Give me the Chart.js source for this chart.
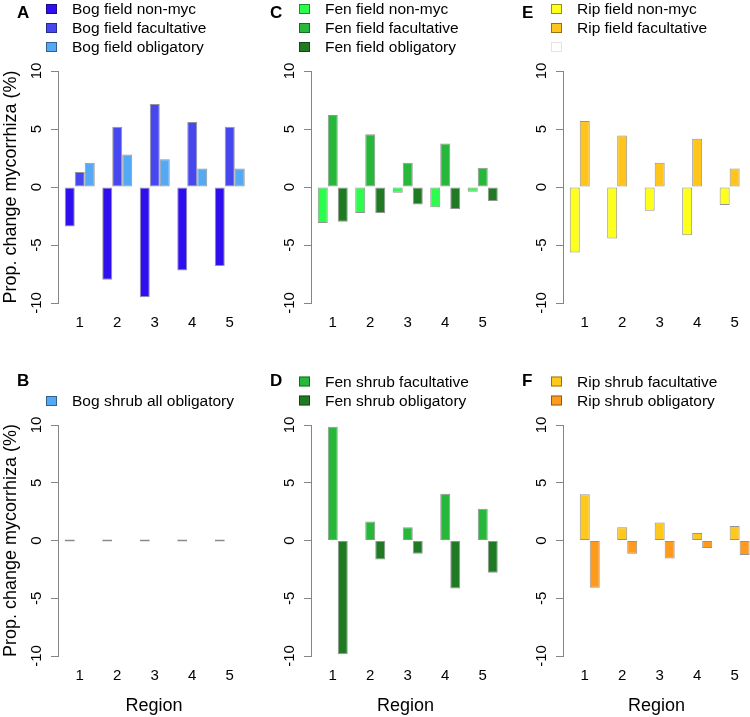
<!DOCTYPE html>
<html>
<head>
<meta charset="utf-8">
<script src="https://cdn.jsdelivr.net/npm/chart.js@4.4.0/dist/chart.umd.min.js"></script>
<style>
  html, body { margin: 0; padding: 0; background: #fff; overflow: hidden; }
  #wrap { position: relative; width: 750px; height: 717px; }
  canvas { position: absolute; }
</style>
</head>
<body>
<div id="wrap">
  <canvas id="pA" width="250" height="340" style="left:0;top:0"></canvas>
  <canvas id="pC" width="250" height="340" style="left:250px;top:0"></canvas>
  <canvas id="pE" width="250" height="340" style="left:500px;top:0"></canvas>
  <canvas id="pB" width="250" height="367" style="left:0;top:350px"></canvas>
  <canvas id="pD" width="250" height="367" style="left:250px;top:350px"></canvas>
  <canvas id="pF" width="250" height="367" style="left:500px;top:350px"></canvas>
</div>
<script>
const regions = [1, 2, 3, 4, 5];
const yTicks = [-10, -5, 0, 5, 10];

// field plots
const bogFieldNonMyc = [-3.4, -8.0, -9.5, -7.2, -6.8];
const bogFieldFac = [1.3, 5.2, 7.15, 5.6, 5.2];
const bogFieldObl = [2.1, 2.8, 2.4, 1.6, 1.6];
const fenFieldNonMyc = [-3.1, -2.25, -0.5, -1.75, -0.4];
const fenFieldFac = [6.2, 4.55, 2.1, 3.75, 1.65];
const fenFieldObl = [-3.0, -2.25, -1.5, -1.9, -1.2];
const ripFieldNonMyc = [-5.65, -4.45, -2.05, -4.15, -1.55];
const ripFieldFac = [5.7, 4.45, 2.1, 4.15, 1.6];

// shrub plots
const bogShrubObl = [0, 0, 0, 0, 0];
const fenShrubFac = [9.85, 1.65, 1.15, 4.05, 2.75];
const fenShrubObl = [-9.85, -1.65, -1.15, -4.15, -2.8];
const ripShrubFac = [4.0, 1.15, 1.55, 0.65, 1.25];
const ripShrubObl = [-4.1, -1.15, -1.55, -0.65, -1.25];

// empty bar slot
const noData = [null, null, null, null, null];

const FONT = '"Liberation Sans", Arial, Helvetica, sans-serif';
Chart.defaults.font.family = FONT;
Chart.defaults.color = '#000';

const edge = 'rgba(0,0,0,0.42)';
const axisGrey = '#858585';

function bars(label, data, color, extra) {
  return Object.assign({
    label: label,
    data: data,
    backgroundColor: color,
    borderColor: edge,
    borderWidth: 1,
    borderSkipped: false
  }, extra || {});
}

// panel letter + R-style legend above each plot
const panelLegend = {
  id: 'panelLegend',
  afterDraw(chart, args, opts) {
    const ctx = chart.ctx;
    const x0 = chart.chartArea.left;
    ctx.save();
    ctx.textBaseline = 'middle';
    ctx.fillStyle = '#000';
    ctx.font = 'bold 17px ' + FONT;
    ctx.fillText(opts.letter, x0 - 41, opts.letterY);
    ctx.font = '15.5px ' + FONT;
    let row = 0;
    chart.data.datasets.forEach(ds => {
      if (ds.hideInLegend) return;
      const y = opts.rowY + row * 19;
      ctx.fillStyle = ds.backgroundColor;
      ctx.fillRect(x0 - 12, y - 5, 11, 10);
      ctx.strokeStyle = ds.legendEdge || ds.borderColor;
      ctx.lineWidth = 1;
      ctx.strokeRect(x0 - 11.5, y - 4.5, 10, 9);
      ctx.fillStyle = '#000';
      ctx.fillText(ds.label, x0 + 14, y + 1);
      row++;
    });
    ctx.restore();
  }
};

function panel(id, p) {
  new Chart(document.getElementById(id), {
    type: 'bar',
    data: { labels: regions, datasets: p.datasets },
    options: {
      responsive: false,
      animation: false,
      layout: { padding: { top: p.top, left: 0, right: 0, bottom: 0 } },
      datasets: { bar: { categoryPercentage: 0.8, barPercentage: 1 } },
      plugins: {
        legend: { display: false },
        tooltip: { enabled: false },
        panelLegend: { letter: p.letter, letterY: p.letterY, rowY: p.rowY }
      },
      scales: {
        x: {
          type: 'linear',
          offset: false,
          min: 0.42,
          max: p.xMax,
          ticks: { stepSize: 1, includeBounds: false, padding: 11, color: '#000', font: { size: 15 } },
          grid: { display: false, drawTicks: false, offset: false },
          border: { display: false },
          title: { display: p.xTitle, text: 'Region', color: '#000', font: { size: 18 }, padding: 0 },
          afterFit: s => { s.height = p.xHeight; }
        },
        y: {
          min: -10,
          max: 10,
          afterBuildTicks: s => { s.ticks = yTicks.map(v => ({ value: v })); },
          ticks: { minRotation: 90, maxRotation: 90, crossAlign: 'center', padding: 3, color: '#000', font: { size: 15 } },
          grid: { drawOnChartArea: false, drawTicks: true, tickLength: 7, color: axisGrey },
          border: { display: true, color: axisGrey, width: 1 },
          title: { display: p.yTitle, text: 'Prop. change mycorrhiza (%)', color: '#000', font: { size: 18 }, padding: 0 },
          afterFit: s => { s.width = p.yWidth; }
        }
      }
    },
    plugins: [panelLegend]
  });
}

const topRow = { top: 71, xHeight: 37, xTitle: false, letterY: 13, rowY: 9 };
const bottomRow = { top: 75, xHeight: 61, xTitle: true, letterY: 31, rowY: 31.5 };

panel('pA', Object.assign({}, topRow, {
  letter: 'A', yWidth: 58, xMax: 5.54, yTitle: true,
  datasets: [
    bars('Bog field non-myc', bogFieldNonMyc, '#2F0FF0'),
    bars('Bog field facultative', bogFieldFac, '#4747F0'),
    bars('Bog field obligatory', bogFieldObl, '#55A9F4')
  ]
}));

panel('pC', Object.assign({}, topRow, {
  letter: 'C', yWidth: 61, xMax: 5.46, yTitle: false,
  datasets: [
    bars('Fen field non-myc', fenFieldNonMyc, '#2CFC4C'),
    bars('Fen field facultative', fenFieldFac, '#27B83B'),
    bars('Fen field obligatory', fenFieldObl, '#1F7A23')
  ]
}));

panel('pE', Object.assign({}, topRow, {
  letter: 'E', yWidth: 63, xMax: 5.41, yTitle: false,
  datasets: [
    bars('Rip field non-myc', ripFieldNonMyc, '#FFFF1C'),
    bars('Rip field facultative', ripFieldFac, '#FFC51C'),
    bars('', noData, '#FFFFFF', { legendEdge: '#E4E4E4' })
  ]
}));

panel('pB', Object.assign({}, bottomRow, {
  letter: 'B', yWidth: 58, xMax: 5.54, yTitle: true, rowY: 51,
  datasets: [
    bars('Bog shrub all obligatory', bogShrubObl, '#55A9F4', { borderColor: '#8A8A8A', legendEdge: edge, minBarLength: 2 }),
    bars('', noData, '#FFFFFF', { hideInLegend: true }),
    bars('', noData, '#FFFFFF', { hideInLegend: true })
  ]
}));

panel('pD', Object.assign({}, bottomRow, {
  letter: 'D', yWidth: 61, xMax: 5.46, yTitle: false,
  datasets: [
    bars('', noData, '#FFFFFF', { hideInLegend: true }),
    bars('Fen shrub facultative', fenShrubFac, '#27B83B'),
    bars('Fen shrub obligatory', fenShrubObl, '#1F7A23')
  ]
}));

panel('pF', Object.assign({}, bottomRow, {
  letter: 'F', yWidth: 63, xMax: 5.41, yTitle: false,
  datasets: [
    bars('', noData, '#FFFFFF', { hideInLegend: true }),
    bars('Rip shrub facultative', ripShrubFac, '#FFC81C'),
    bars('Rip shrub obligatory', ripShrubObl, '#FF9A1C')
  ]
}));
</script>
</body>
</html>
